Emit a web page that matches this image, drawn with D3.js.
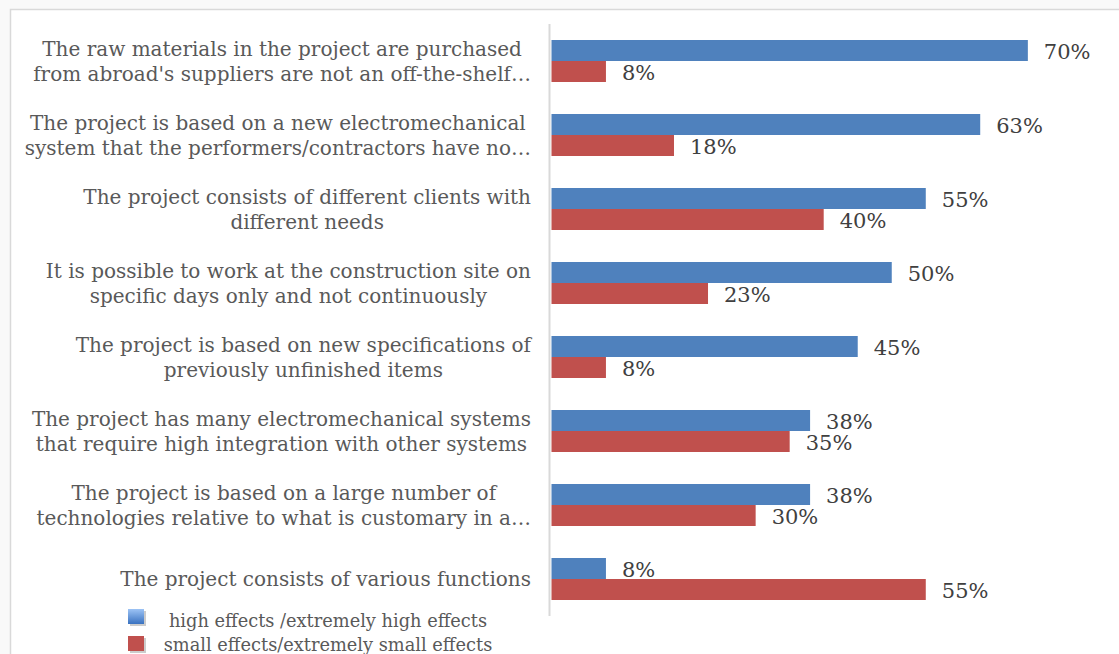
<!DOCTYPE html>
<html>
<head>
<meta charset="utf-8">
<script src="https://cdn.jsdelivr.net/npm/d3@7"></script>
<style>
  body { margin: 0; background: #f9f9f9; }
  svg { display: block; }
</style>
</head>
<body>
<script>
// Chart data
const categories = [
  ["The raw materials in the project are purchased", "from abroad's suppliers  are not an off-the-shelf…"],
  ["The project is based on a new electromechanical", "system that the performers/contractors have no…"],
  ["The project consists of different clients with", "different needs"],
  ["It is possible to work at the construction site on", "specific days only and not continuously"],
  ["The project is based on new specifications of", "previously unfinished items"],
  ["The project has many electromechanical systems", "that require high integration with other systems"],
  ["The project is based on a large number of", "technologies relative to what is customary in a…"],
  ["The project consists of various functions"]
];
const highEffects = [70, 63, 55, 50, 45, 38, 38, 8];
const smallEffects = [8, 18, 40, 23, 8, 35, 30, 55];
const seriesNames = ["high effects /extremely high effects", "small effects/extremely small effects"];

const width = 1119;
const height = 654;

const svg = d3.select("body").append("svg")
    .attr("width", width)
    .attr("height", height);

// gradient for the legend swatch
const defs = svg.append("defs");
const grad = defs.append("linearGradient").attr("id", "blueGrad")
    .attr("x1", 0).attr("y1", 0).attr("x2", 0).attr("y2", 1);
grad.append("stop").attr("offset", "0%").attr("stop-color", "#9cc3f5");
grad.append("stop").attr("offset", "100%").attr("stop-color", "#3a72c0");

// chart frame
svg.append("rect")
    .attr("x", 10.5).attr("y", 9.5)
    .attr("width", width + 20).attr("height", height + 20)
    .attr("fill", "#ffffff")
    .attr("stroke", "#d9d9d9")
    .attr("stroke-width", 1.5);

// scales
const x = d3.scaleLinear().domain([0, 100]).range([551.5, 1232]);
const y = d3.scaleBand().domain(d3.range(categories.length)).range([24, 616]);
const barH = 21;

// vertical axis line
svg.append("line")
    .attr("x1", 549.5).attr("x2", 549.5)
    .attr("y1", 24).attr("y2", 616)
    .attr("stroke", "#d9d9d9")
    .attr("stroke-width", 2);

const font = "'DejaVu Serif', serif";

// bars
const groups = svg.selectAll("g.cat")
    .data(categories)
    .enter().append("g")
    .attr("class", "cat");

groups.append("rect")
    .attr("x", x(0))
    .attr("y", (d, i) => y(i) + y.bandwidth() / 2 - barH)
    .attr("width", (d, i) => x(highEffects[i]) - x(0))
    .attr("height", barH)
    .attr("fill", "#4f81bd");

groups.append("rect")
    .attr("x", x(0))
    .attr("y", (d, i) => y(i) + y.bandwidth() / 2)
    .attr("width", (d, i) => x(smallEffects[i]) - x(0))
    .attr("height", barH)
    .attr("fill", "#c0504d");

// value labels
groups.append("text")
    .attr("x", (d, i) => x(highEffects[i]) + 16)
    .attr("y", (d, i) => y(i) + y.bandwidth() / 2 - barH / 2 + 8)
    .attr("font-family", font)
    .attr("font-size", "21px")
    .attr("fill", "#404040")
    .text((d, i) => highEffects[i] + "%");

groups.append("text")
    .attr("x", (d, i) => x(smallEffects[i]) + 16)
    .attr("y", (d, i) => y(i) + y.bandwidth() / 2 + barH / 2 + 8)
    .attr("font-family", font)
    .attr("font-size", "21px")
    .attr("fill", "#404040")
    .text((d, i) => smallEffects[i] + "%");

// category labels, centered lines, block right-aligned
groups.each(function(lines, i) {
    const g = d3.select(this);
    const lineH = 25;
    const cy = y(i) + y.bandwidth() / 2;
    const t = g.append("text")
        .attr("font-family", font)
        .attr("font-size", "20px")
        .attr("fill", "#595959")
        .attr("text-anchor", "middle");
    const spans = lines.map((s, k) => t.append("tspan")
        .attr("y", cy - (lines.length - 1) * lineH / 2 + k * lineH + 7)
        .text(s));
    let maxW = 0;
    spans.forEach(sp => { maxW = Math.max(maxW, sp.node().getComputedTextLength()); });
    spans.forEach(sp => sp.attr("x", 531 - maxW / 2));
});

// legend
const legend = svg.append("g");
legend.append("rect")
    .attr("x", 130).attr("y", 611).attr("width", 16).attr("height", 15)
    .attr("fill", "#6d6d6d").attr("opacity", 0.35);
legend.append("rect")
    .attr("x", 128).attr("y", 609).attr("width", 16).attr("height", 15)
    .attr("fill", "url(#blueGrad)");
legend.append("rect")
    .attr("x", 130).attr("y", 638).attr("width", 16).attr("height", 15)
    .attr("fill", "#6d6d6d").attr("opacity", 0.35);
legend.append("rect")
    .attr("x", 128).attr("y", 636).attr("width", 16).attr("height", 15)
    .attr("fill", "#c0504d");
legend.selectAll("text.leg")
    .data(seriesNames)
    .enter().append("text")
    .attr("class", "leg")
    .attr("x", 328)
    .attr("y", (d, i) => 627 + i * 24)
    .attr("text-anchor", "middle")
    .attr("font-family", font)
    .attr("font-size", "17.8px")
    .attr("fill", "#595959")
    .text(d => d);
</script>
</body>
</html>
